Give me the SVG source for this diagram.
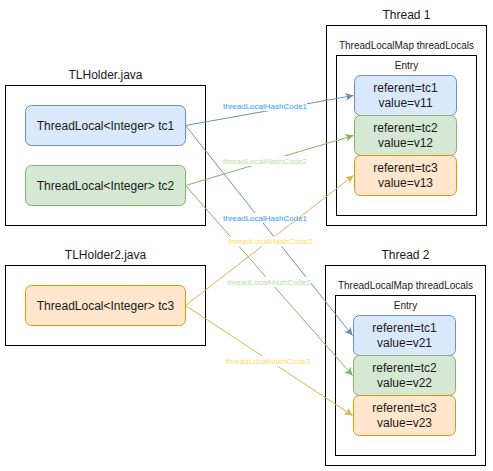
<svg xmlns="http://www.w3.org/2000/svg" width="493" height="471" viewBox="0 0 493 471">
<style>
text{font-family:"Liberation Sans",Arial,sans-serif;fill:#1a1a1a;text-anchor:middle;dominant-baseline:central}
.box{fill:#fff;stroke:#000;stroke-width:1}
.t12{font-size:12px}
.t10{font-size:10px}
.lbl{font-size:8px}
.blue{fill:#dae8fc;stroke:#6c8ebf}
.green{fill:#d5e8d4;stroke:#82b366}
.orange{fill:#ffe6cc;stroke:#d79b00}
.eb{stroke:#6c8ebf;fill:none}
.eg{stroke:#82b366;fill:none}
.ey{stroke:#d6b656;fill:none}
.bg{fill:#fff}
</style>
<defs>
<marker id="ab" markerWidth="10" markerHeight="10" refX="8" refY="4" orient="auto" markerUnits="userSpaceOnUse"><path d="M0,0 L8,4 L0,8 L2,4 Z" fill="#6c8ebf"/></marker>
<marker id="ag" markerWidth="10" markerHeight="10" refX="8" refY="4" orient="auto" markerUnits="userSpaceOnUse"><path d="M0,0 L8,4 L0,8 L2,4 Z" fill="#82b366"/></marker>
<marker id="ay" markerWidth="10" markerHeight="10" refX="8" refY="4" orient="auto" markerUnits="userSpaceOnUse"><path d="M0,0 L8,4 L0,8 L2,4 Z" fill="#d6b656"/></marker>
</defs>
<rect width="493" height="471" fill="#fff"/>

<g id="tlholder">
<text class="t12" x="105.5" y="75">TLHolder.java</text>
<rect class="box" x="5.5" y="85.5" width="200" height="140"/>
</g>
<g id="tlholder2">
<text class="t12" x="105.5" y="255">TLHolder2.java</text>
<rect class="box" x="5.5" y="265.5" width="200" height="80"/>
</g>
<g id="thread1">
<text class="t12" x="406.5" y="15">Thread 1</text>
<rect class="box" x="326.5" y="25.5" width="160" height="200"/>
<text class="t10" x="406.5" y="45">ThreadLocalMap threadLocals</text>
<rect class="box" x="336.5" y="55.5" width="140" height="160"/>
<text class="t10" x="406.5" y="65">Entry</text>
</g>
<g id="thread2">
<text class="t12" x="405.5" y="255">Thread 2</text>
<rect class="box" x="325.5" y="265.5" width="160" height="200"/>
<text class="t10" x="405.5" y="285">ThreadLocalMap threadLocals</text>
<rect class="box" x="335.5" y="295.5" width="140" height="160"/>
<text class="t10" x="405.5" y="305">Entry</text>
</g>

<g id="tc1"><rect class="blue" x="25.5" y="105.5" width="160" height="40" rx="6"/><text class="t12" x="105.5" y="125.5">ThreadLocal&lt;Integer&gt; tc1</text></g>
<g id="tc2"><rect class="green" x="25.5" y="165.5" width="160" height="40" rx="6"/><text class="t12" x="105.5" y="185.5">ThreadLocal&lt;Integer&gt; tc2</text></g>
<g id="tc3"><rect class="orange" x="25.5" y="285.5" width="160" height="40" rx="6"/><text class="t12" x="105.5" y="305.5">ThreadLocal&lt;Integer&gt; tc3</text></g>

<g id="e11"><rect class="blue" x="354.5" y="75.5" width="102" height="40" rx="6"/><text class="t12" x="405.5" y="88">referent=tc1</text><text class="t12" x="405.5" y="103">value=v11</text></g>
<g id="e12"><rect class="green" x="354.5" y="115.5" width="102" height="40" rx="6"/><text class="t12" x="405.5" y="128">referent=tc2</text><text class="t12" x="405.5" y="143">value=v12</text></g>
<g id="e13"><rect class="orange" x="354.5" y="155.5" width="102" height="40" rx="6"/><text class="t12" x="405.5" y="168">referent=tc3</text><text class="t12" x="405.5" y="183">value=v13</text></g>

<g id="e21"><rect class="blue" x="353.5" y="315.5" width="102" height="40" rx="6"/><text class="t12" x="404.5" y="328">referent=tc1</text><text class="t12" x="404.5" y="343">value=v21</text></g>
<g id="e22"><rect class="green" x="353.5" y="355.5" width="102" height="40" rx="6"/><text class="t12" x="404.5" y="368">referent=tc2</text><text class="t12" x="404.5" y="383">value=v22</text></g>
<g id="e23"><rect class="orange" x="353.5" y="395.5" width="102" height="40" rx="6"/><text class="t12" x="404.5" y="408">referent=tc3</text><text class="t12" x="404.5" y="423">value=v23</text></g>

<g id="connectors">
<path class="eb" d="M185.5,125.5 L353.5,95.5" marker-end="url(#ab)"/>
<rect class="bg" x="223" y="101" width="84" height="10"/>
<text class="lbl" x="265" y="106" style="fill:#3399ff">threadLocalHashCode1</text>

<path class="eg" d="M185.5,185.5 L353.5,135.5" marker-end="url(#ag)"/>
<rect class="bg" x="223" y="156" width="84" height="10"/>
<text class="lbl" x="265" y="161" style="fill:#b9e0a5">threadLocalHashCode2</text>

<path class="eb" d="M185.5,125.5 L352.5,335.5" marker-end="url(#ab)"/>
<rect class="bg" x="223" y="213" width="84" height="10"/>
<text class="lbl" x="265" y="218" style="fill:#3399ff">threadLocalHashCode1</text>

<path class="eg" d="M185.5,185.5 L352.5,375.5" marker-end="url(#ag)"/>
<rect class="bg" x="227" y="277" width="84" height="10"/>
<text class="lbl" x="269" y="282" style="fill:#b9e0a5">threadLocalHashCode2</text>

<path class="ey" d="M185.5,305.5 L353.5,175.5" marker-end="url(#ay)"/>
<rect class="bg" x="228" y="236.5" width="84" height="10"/>
<text class="lbl" x="270" y="241.5" style="fill:#ffd966">threadLocalHashCode3</text>

<path class="ey" d="M185.5,305.5 L352.5,415.5" marker-end="url(#ay)"/>
<rect class="bg" x="226" y="356" width="84" height="10"/>
<text class="lbl" x="268" y="361" style="fill:#ffd966">threadLocalHashCode3</text>
</g>
</svg>
